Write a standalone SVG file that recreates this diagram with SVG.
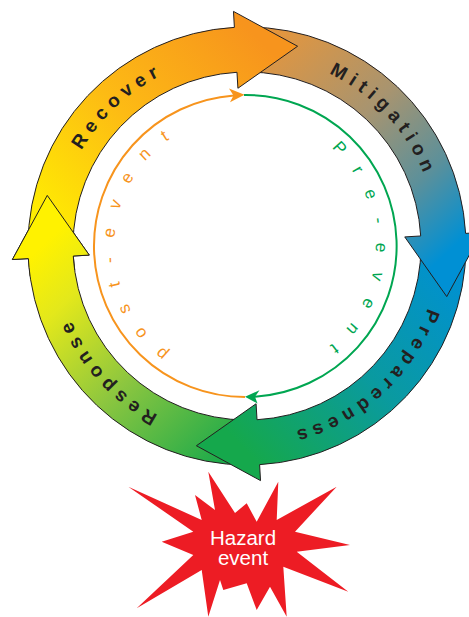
<svg xmlns="http://www.w3.org/2000/svg" width="469" height="617" viewBox="0 0 469 617">
<style>
.band{stroke:#231F20;stroke-width:1;stroke-linejoin:miter}
.lbl{font-family:"Liberation Sans",Arial,sans-serif;font-weight:bold;font-size:19px;letter-spacing:5.6px;fill:#231F20;text-anchor:middle}
.inner{font-family:"Liberation Sans",Arial,sans-serif;font-size:17px;letter-spacing:18.8px;text-anchor:middle}
.haz{font-family:"Liberation Sans",Arial,sans-serif;font-size:20.5px;fill:#FFFFFF;text-anchor:middle}
</style>
<defs>
<linearGradient id="gRecover" gradientUnits="userSpaceOnUse" x1="50" y1="250" x2="262" y2="42">
<stop offset="0" stop-color="#FFF200"/><stop offset="0.5" stop-color="#FDBB14"/><stop offset="1" stop-color="#F7941D"/>
</linearGradient>
<linearGradient id="gMitigation" gradientUnits="userSpaceOnUse" x1="250" y1="45" x2="445" y2="255">
<stop offset="0" stop-color="#E8963A"/><stop offset="0.45" stop-color="#A79470"/><stop offset="0.75" stop-color="#5C909A"/><stop offset="1" stop-color="#0090D4"/>
</linearGradient>
<linearGradient id="gPreparedness" gradientUnits="userSpaceOnUse" x1="445" y1="250" x2="240" y2="445">
<stop offset="0" stop-color="#0090D3"/><stop offset="0.5" stop-color="#0A9AA0"/><stop offset="1" stop-color="#15A84C"/>
</linearGradient>
<linearGradient id="gResponse" gradientUnits="userSpaceOnUse" x1="245" y1="445" x2="48" y2="240">
<stop offset="0" stop-color="#19A94B"/><stop offset="0.45" stop-color="#8CC63F"/><stop offset="0.8" stop-color="#E3E81B"/><stop offset="1" stop-color="#FFF200"/>
</linearGradient>
<path id="outerTxt" d="M438,246 A191,191 0 1 1 56,246 A191,191 0 1 1 438,246"/>
<path id="innerA" d="M375.5,246 A130.5,130.5 0 1 1 114.5,246 A130.5,130.5 0 1 1 375.5,246"/>
<path id="innerB" d="M114.5,246 A130.5,130.5 0 1 1 375.5,246 A130.5,130.5 0 1 1 114.5,246"/>
</defs>

<g id="response">
<path class="band" fill="url(#gResponse)" d="M247,465 A219,219 0 0 1 28.36,258.61 L12.39,259.53 L47.26,195.41 L89.26,255.09 L73.29,256.02 A174,174 0 0 0 247,420 Z"/>
<text class="lbl"><textPath href="#outerTxt" startOffset="460.3">Response</textPath></text>
</g>
<g id="preparedness">
<path class="band" fill="url(#gPreparedness)" d="M466,246 A219,219 0 0 1 259.61,464.64 L260.53,480.61 L196.41,445.74 L256.09,403.74 L257.02,419.71 A174,174 0 0 0 421,246 Z"/>
<text class="lbl"><textPath href="#outerTxt" startOffset="159.5">Preparedness</textPath></text>
</g>
<g id="mitigation">
<path class="band" fill="url(#gMitigation)" d="M247,27 A219,219 0 0 1 465.64,233.39 L481.61,232.47 L446.74,296.59 L404.74,236.91 L420.71,235.98 A174,174 0 0 0 247,72 Z"/>
<text class="lbl"><textPath href="#outerTxt" startOffset="1057.2">Mitigation</textPath></text>
</g>
<g id="recover">
<path class="band" fill="url(#gRecover)" d="M28,246 A219,219 0 0 1 234.39,27.36 L233.47,11.39 L297.59,46.26 L237.91,88.26 L236.98,72.29 A174,174 0 0 0 73,246 Z"/>
<text class="lbl"><textPath href="#outerTxt" startOffset="756.9">Recover</textPath></text>
</g>
<g id="response-head">
<path fill="url(#gResponse)" stroke="none" d="M30.13,276.48 A219,219 0 0 1 28.36,258.61 L12.39,259.53 L47.26,195.41 L89.26,255.09 L73.29,256.02 A174,174 0 0 0 74.69,270.22 Z"/>
<path class="band" fill="none" d="M30.13,276.48 A219,219 0 0 1 28.36,258.61 L12.39,259.53 L47.26,195.41 L89.26,255.09 L73.29,256.02 A174,174 0 0 0 74.69,270.22"/>
</g>

<g id="connectors">
<path fill="none" stroke="#F7941D" stroke-width="2" d="M245,397 A151,151 0 0 1 234,95.4"/>
<polygon fill="#F7941D" points="244.5,94.8 229,88.5 233.5,95.4 230,102.3"/>
<path fill="none" stroke="#00A651" stroke-width="2" d="M244,95 A151,151 0 0 1 255,396.7"/>
<polygon fill="#00A651" points="245,396.8 259.5,390.3 255,396.8 257.5,403.5"/>
<text class="inner" fill="#F7941D"><textPath href="#innerA" startOffset="419.4">post-event</textPath></text>
<text class="inner" fill="#00A651"><textPath href="#innerB" startOffset="420.5">Pre-event</textPath></text>
</g>

<g id="hazard-event">
<polygon fill="#ED1C24" points="128.3,486.7 201.7,520 195,495 215,510 208.3,471.7 235,513 246.7,503.3 256.7,521.7 278.3,481.7 276.7,520 336.7,486.7 295,531.7 350,545 296.7,551.7 348.3,591.7 283.3,566.7 286.7,616.7 270,586.7 256.7,610 246.7,583.3 223.3,590 220,580 208.3,616.7 201.7,570 136.7,608.3 193.3,555 161.7,541.7 193.3,531.7"/>
<text class="haz" x="243" y="545">Hazard</text>
<text class="haz" x="243" y="565">event</text>
</g>
</svg>
